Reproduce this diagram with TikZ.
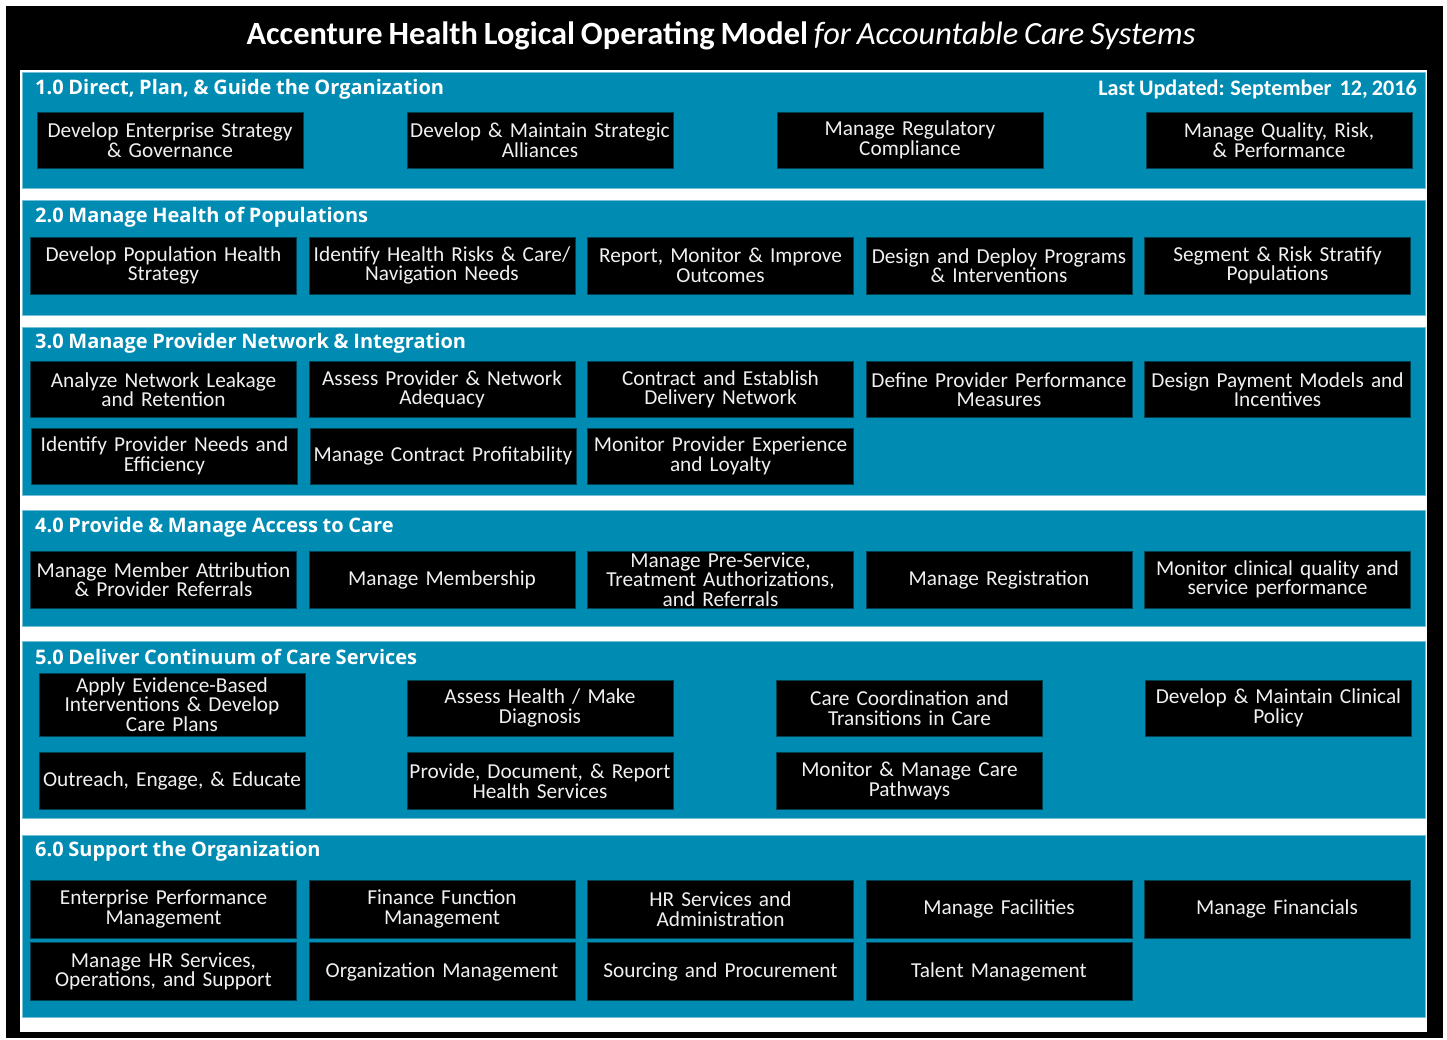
\documentclass[tikz,border=0pt]{standalone}
\usepackage{fontspec}
\setmainfont{Carlito}[WordSpace=0.8]
\newfontfamily\headfont{Open Sans}[WordSpace=0.9]
\usepackage{xcolor}
\usepackage{tikz}
\usetikzlibrary{positioning, calc}

\definecolor{acnteal}{RGB}{0,139,178}
\definecolor{boxtext}{RGB}{240,240,240}
\hyphenpenalty=10000

\begin{document}
\begin{tikzpicture}[
    x=1pt, y=-1pt,
    band/.style = {fill=acnteal, draw=acnteal!55!white, line width=0.6pt},
    proc/.style = {fill=black, draw=acnteal!45!black, line width=0.5pt,
                   text=boxtext, minimum width=265pt, minimum height=57pt,
                   text width=266pt, inner sep=0pt, align=center,
                   font=\fontsize{21.3}{19.5}\selectfont},
    head/.style = {anchor=west, text=white, inner sep=0pt,
                   font=\headfont\bfseries\fontsize{20}{20}\selectfont}
  ]

  % ----------------------------------------------------------------
  % Page: white margin, black frame, white panel
  % ----------------------------------------------------------------
  \useasboundingbox (0,0) rectangle (1447,1040);
  \fill[white] (0,0) rectangle (1447,1040);
  \fill[black] (6,6) rectangle (1443,1038);
  \fill[white] (20,70) rectangle (1427,1032);

  \node[text=white, font=\fontsize{32.4}{32}\selectfont] (title) at (721,36)
        {\textbf{Accenture Health Logical Operating Model} \textit{for Accountable Care Systems}};

  % ----------------------------------------------------------------
  % Teal bands, one per section, with their headings
  % ----------------------------------------------------------------
  \foreach \top/\bot in {72/188, 200/315, 327/495, 510/626, 641/818, 835/1017}{
    \draw[band] (22,\top) rectangle (1425,\bot);
  }

  \foreach \idx/\yy/\lbl in {
      1/89/{1.0 Direct, Plan, \& Guide the Organization},
      2/217/{2.0 Manage Health of Populations},
      3/343/{3.0 Manage Provider Network \& Integration},
      4/527/{4.0 Provide \& Manage Access to Care},
      5/657/{5.0 Deliver Continuum of Care Services},
      6/851/{6.0 Support the Organization}}{
    \node[head] (h\idx) at (35,\yy) {\lbl};
  }
  \node[head, anchor=east, font=\bfseries\fontsize{22.2}{20}\selectfont] (upd) at (1417,89)
        {Last Updated: September\ \ 12, 2016};

  % ----------------------------------------------------------------
  % 1.0  four boxes
  % ----------------------------------------------------------------
  \foreach \idx/\xx/\lbl in {
      1/170/{Develop Enterprise Strategy\\ \& Governance},
      2/540/{Develop \& Maintain Strategic\\ Alliances},
      3/910/{Manage Regulatory\\ Compliance},
      4/1279/{Manage Quality, Risk,\\ \& Performance}}{
    \node[proc, minimum height=56pt] (b1\idx) at (\xx,140) {\lbl};
  }

  % ----------------------------------------------------------------
  % 2.0  five boxes
  % ----------------------------------------------------------------
  \foreach \idx/\xx/\lbl in {
      1/163.5/{Develop Population Health\\ Strategy},
      2/442/{Identify Health Risks \& Care/\\ Navigation Needs},
      3/720.5/{Report, Monitor \& Improve\\ Outcomes},
      4/999/{Design and Deploy Programs\\ \& Interventions},
      5/1277.5/{Segment \& Risk Stratify\\ Populations}}{
    \node[proc] (b2\idx) at (\xx,265.5) {\lbl};
  }

  % ----------------------------------------------------------------
  % 3.0  two rows
  % ----------------------------------------------------------------
  \foreach \idx/\xx/\lbl in {
      1/163.5/{Analyze Network Leakage\\ and Retention},
      2/442/{Assess Provider \& Network\\ Adequacy},
      3/720.5/{Contract and Establish\\ Delivery Network},
      4/999/{Define Provider Performance\\ Measures},
      5/1277.5/{Design Payment Models and\\ Incentives}}{
    \node[proc, minimum height=56pt] (b3\idx) at (\xx,389.5) {\lbl};
  }
  \foreach \idx/\xx/\lbl in {
      6/164.5/{Identify Provider Needs and\\ Efficiency},
      7/443/{Manage Contract Profitability},
      8/720.5/{Monitor Provider Experience\\ and Loyalty}}{
    \node[proc, minimum height=56pt] (b3\idx) at (\xx,456) {\lbl};
  }

  % ----------------------------------------------------------------
  % 4.0  five boxes
  % ----------------------------------------------------------------
  \foreach \idx/\xx/\lbl in {
      1/163.5/{Manage Member Attribution\\ \& Provider Referrals},
      2/442/{Manage Membership},
      3/720.5/{Manage Pre-Service,\\ Treatment Authorizations,\\ and Referrals},
      4/999/{Manage Registration},
      5/1277.5/{Monitor clinical quality and\\ service performance}}{
    \node[proc] (b4\idx) at (\xx,579.5) {\lbl};
  }

  % ----------------------------------------------------------------
  % 5.0  four columns, two rows (first box a bit taller)
  % ----------------------------------------------------------------
  \node[proc, minimum height=63pt] (b51) at (172,704.5)
        {Apply Evidence-Based\\ Interventions \& Develop\\ Care Plans};
  \foreach \idx/\xx/\lbl in {
      2/540/{Assess Health / Make\\ Diagnosis},
      3/909.5/{Care Coordination and\\ Transitions in Care},
      4/1278.5/{Develop \& Maintain Clinical\\ Policy}}{
    \node[proc, minimum height=56pt] (b5\idx) at (\xx,708) {\lbl};
  }
  \foreach \idx/\xx/\lbl in {
      5/172/{Outreach, Engage, \& Educate},
      6/540/{Provide, Document, \& Report\\ Health Services},
      7/909.5/{Monitor \& Manage Care\\ Pathways}}{
    \node[proc] (b5\idx) at (\xx,781) {\lbl};
  }

  % ----------------------------------------------------------------
  % 6.0  two rows
  % ----------------------------------------------------------------
  \foreach \idx/\xx/\lbl in {
      1/163.5/{Enterprise Performance\\ Management},
      2/442/{Finance Function\\ Management},
      3/720.5/{HR Services and\\ Administration},
      4/999/{Manage Facilities},
      5/1277/{Manage Financials}}{
    \node[proc, minimum height=58pt] (b6\idx) at (\xx,909) {\lbl};
  }
  \foreach \idx/\xx/\lbl in {
      6/163.5/{Manage HR Services,\\ Operations, and Support},
      7/442/{Organization Management},
      8/720.5/{Sourcing and Procurement},
      9/999/{Talent Management}}{
    \node[proc, minimum height=58pt] (b6\idx) at (\xx,971.5) {\lbl};
  }

\end{tikzpicture}
\end{document}
